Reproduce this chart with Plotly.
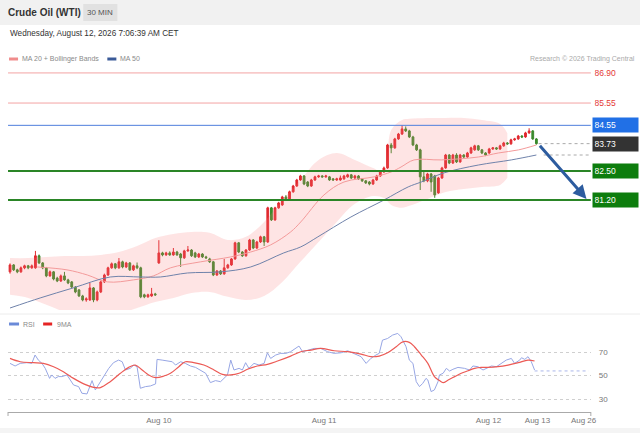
import plotly.graph_objects as go

# 30 min candles, x = candle number (Aug 7 afternoon ... Aug 12 morning)
opens = [77.98, 78.29, 78.07, 77.98, 78.16, 78.25, 78.16, 78.16, 78.70, 78.38,
         78.16, 77.80, 77.98, 77.70, 77.57, 77.80, 77.62, 77.53, 77.30, 77.17,
         76.90, 76.72, 76.72, 77.26, 76.72, 77.08, 77.53, 77.84, 78.16, 78.34,
         78.16, 78.43, 78.20, 78.38, 78.07, 78.25, 78.16, 76.95, 76.86, 76.90,
         76.99, 78.38, 78.83, 78.74, 78.83, 78.74, 78.87, 78.78, 78.61, 78.92,
         78.96, 78.83, 78.65, 78.78, 78.65, 78.56, 78.43, 77.84, 78.02, 77.89,
         78.16, 78.29, 78.56, 79.28, 78.87, 78.70, 78.96, 79.41, 79.05, 79.32,
         79.55, 79.32, 80.85, 80.31, 80.85, 80.98, 81.34, 81.25, 81.57, 81.83,
         82.10, 82.28, 82.01, 81.83, 82.10, 82.24, 82.28, 82.24, 82.24, 82.15,
         82.10, 82.10, 82.15, 82.24, 82.33, 82.19, 82.28, 82.15, 82.06, 82.01,
         81.92, 82.10, 82.28, 82.46, 82.64, 83.67, 83.54, 83.94, 84.16, 84.39,
         84.30, 84.03, 83.67, 83.45, 82.24, 82.06, 82.37, 82.28, 81.52, 82.19,
         82.64, 83.22, 82.86, 83.22, 82.91, 83.22, 83.13, 83.31, 83.45, 83.63,
         83.45, 83.31, 83.31, 83.49, 83.54, 83.49, 83.63, 83.76, 83.72, 83.90,
         83.94, 84.07, 84.03, 84.21, 84.30, 83.94]
highs = [78.36, 78.33, 78.12, 78.22, 78.30, 78.29, 78.31, 78.92, 78.76, 78.42,
         78.20, 78.04, 78.02, 77.76, 77.86, 77.98, 77.67, 77.57, 77.34, 77.21,
         76.95, 76.84, 77.48, 77.30, 77.14, 77.58, 77.90, 78.21, 78.40, 78.38,
         78.60, 78.48, 78.43, 78.42, 78.30, 78.40, 78.21, 77.00, 77.00, 77.26,
         77.04, 79.40, 78.88, 78.88, 78.90, 79.05, 78.92, 78.83, 78.97, 79.14,
         79.00, 78.88, 78.83, 78.82, 78.70, 78.61, 78.47, 78.06, 78.06, 78.56,
         78.34, 78.60, 79.33, 79.32, 78.91, 79.00, 79.46, 79.45, 79.37, 79.60,
         79.59, 80.90, 80.89, 80.90, 81.12, 81.39, 81.42, 81.62, 81.88, 82.15,
         82.33, 82.32, 82.05, 82.15, 82.29, 82.33, 82.32, 82.33, 82.28, 82.19,
         82.20, 82.30, 82.33, 82.38, 82.37, 82.33, 82.32, 82.19, 82.10, 82.05,
         82.15, 82.33, 82.51, 82.70, 83.72, 83.76, 83.99, 84.21, 84.55, 84.50,
         84.35, 84.08, 83.72, 83.50, 82.50, 82.42, 82.41, 82.33, 82.24, 82.69,
         83.27, 83.26, 83.27, 83.30, 83.27, 83.26, 83.36, 83.59, 83.68, 83.67,
         83.49, 83.35, 83.54, 83.58, 83.58, 83.68, 83.81, 83.80, 83.95, 83.99,
         84.12, 84.11, 84.26, 84.42, 84.34, 83.98]
lows = [77.90, 78.02, 77.92, 77.94, 78.10, 78.10, 78.12, 78.12, 78.33, 78.10,
        77.74, 77.76, 77.60, 77.52, 77.53, 77.58, 77.43, 77.25, 77.02, 76.85,
        76.66, 76.64, 76.68, 76.62, 76.66, 77.03, 77.48, 77.80, 78.12, 78.10,
        78.12, 78.14, 78.15, 78.02, 78.02, 78.10, 76.80, 76.80, 76.82, 76.86,
        76.90, 78.34, 78.68, 78.70, 78.70, 78.70, 78.70, 78.20, 78.56, 78.88,
        78.65, 78.60, 78.60, 78.60, 78.56, 78.38, 77.79, 77.80, 77.84, 77.85,
        78.12, 78.25, 78.52, 78.82, 78.65, 78.66, 78.92, 79.00, 79.01, 79.28,
        79.14, 79.28, 80.26, 80.27, 80.81, 80.94, 81.20, 81.21, 81.53, 81.79,
        82.06, 81.87, 81.78, 81.79, 82.06, 82.20, 82.20, 82.20, 82.06, 82.06,
        82.06, 82.06, 82.11, 82.20, 82.14, 82.15, 82.10, 82.01, 81.92, 81.86,
        81.88, 82.06, 82.24, 82.42, 82.60, 83.30, 83.50, 83.90, 84.12, 84.25,
        83.98, 83.62, 83.40, 81.65, 82.00, 82.00, 81.57, 81.30, 81.48, 82.15,
        82.60, 82.81, 82.82, 82.86, 82.87, 83.08, 83.09, 83.27, 83.41, 83.40,
        83.26, 83.17, 83.27, 83.45, 83.45, 83.45, 83.59, 83.68, 83.68, 83.86,
        83.90, 83.98, 83.99, 84.17, 83.90, 83.68]
closes = [78.29, 78.07, 77.98, 78.16, 78.25, 78.16, 78.25, 78.70, 78.38, 78.16,
          77.80, 77.98, 77.66, 77.57, 77.80, 77.62, 77.48, 77.30, 77.08, 76.90,
          76.72, 76.77, 77.26, 76.72, 77.08, 77.53, 77.84, 78.16, 78.34, 78.16,
          78.43, 78.20, 78.38, 78.07, 78.25, 78.16, 76.86, 76.86, 76.95, 76.99,
          76.95, 78.83, 78.74, 78.83, 78.74, 78.87, 78.74, 78.61, 78.92, 78.96,
          78.70, 78.65, 78.78, 78.65, 78.61, 78.43, 77.84, 78.02, 77.89, 78.16,
          78.29, 78.56, 79.28, 78.87, 78.70, 78.96, 79.41, 79.05, 79.32, 79.55,
          79.32, 80.85, 80.31, 80.85, 81.07, 81.34, 81.25, 81.57, 81.83, 82.10,
          82.28, 81.92, 81.83, 82.10, 82.24, 82.28, 82.24, 82.28, 82.10, 82.10,
          82.15, 82.19, 82.28, 82.33, 82.19, 82.28, 82.15, 82.06, 81.97, 81.92,
          82.10, 82.28, 82.46, 82.64, 83.67, 83.54, 83.94, 84.16, 84.39, 84.30,
          84.03, 83.67, 83.45, 82.24, 82.06, 82.37, 82.01, 81.43, 82.19, 82.64,
          83.22, 82.86, 83.22, 82.91, 83.22, 83.13, 83.31, 83.54, 83.63, 83.45,
          83.31, 83.22, 83.49, 83.54, 83.49, 83.63, 83.76, 83.72, 83.90, 83.94,
          84.07, 84.03, 84.21, 84.30, 83.94, 83.73]
candle_x = list(range(len(closes)))

# Bollinger band (20, 2)
band_x = [0, 5, 10, 15, 20, 25, 30, 35, 40, 45, 50, 55, 60, 65, 70,
          75, 80, 85, 90, 95, 100, 103, 105, 108, 110, 115, 120, 125, 130, 135, 137]
band_upper = [78.60, 78.60, 78.65, 78.69, 78.69, 78.74, 78.87, 79.14, 79.50, 79.68,
              79.77, 79.73, 79.41, 79.55, 80.22, 81.20, 82.10, 83.00, 83.31, 83.00,
              82.64, 82.46, 84.34, 84.79, 84.84, 84.88, 84.88, 84.88, 84.79, 84.61, 84.20]
band_lower = [76.95, 76.81, 76.50, 76.18, 75.91, 75.91, 76.09, 76.36, 76.63, 76.81,
              77.03, 77.08, 76.86, 76.72, 76.90, 77.53, 78.43, 79.32, 80.22, 81.03,
              81.38, 81.29, 80.98, 80.85, 80.94, 81.25, 81.56, 81.70, 81.79, 81.88, 82.20]

ma20_x = [7.5, 15.7, 21.3, 26.8, 34.0, 39.5, 44.2, 52.5, 60.8, 66.3, 71.8, 77.3,
          80.1, 86.5, 92.0, 100.3, 105.0, 107.7, 111.3, 118.8, 129.0, 134.5, 140.1, 145.0]
ma20 = [78.20, 78.07, 77.84, 77.53, 77.62, 77.80, 78.16, 78.43, 78.65, 78.87, 79.19, 79.77,
        80.22, 81.43, 82.01, 82.24, 82.46, 82.68, 83.00, 83.00, 83.13, 83.31, 83.45, 83.67]

ma50_x = [0, 8.3, 17.4, 27.6, 35.9, 41.4, 48.9, 58.0, 66.3, 75.4,
          80.1, 84.8, 93.9, 103.0, 109.7, 113.3, 119.6, 129.0, 138.1, 145.0]
ma50 = [76.36, 76.81, 77.26, 77.75, 77.75, 77.75, 77.93, 77.98, 78.20, 78.83,
        79.10, 79.55, 80.44, 81.20, 81.79, 82.01, 82.42, 82.77, 83.00, 83.22]

rsi_x = [0, 1.4, 2.8, 4.6, 6.0, 6.9, 7.8, 8.8, 9.7, 10.9, 11.5, 12.4, 13.3, 14.3, 15.7,
         16.6, 17.5, 18.9, 19.8, 21.2, 21.6, 22.6, 23.5, 24.4, 25.8, 27.2, 28.5, 29.9,
         30.9, 31.8, 33.1, 34.1, 35.0, 35.9, 37.3, 38.7, 40.1, 40.5, 41.9, 43.3, 44.7,
         45.6, 47.0, 48.3, 49.7, 51.1, 52.5, 53.9, 55.2, 56.6, 58.0, 59.9, 60.8, 61.7,
         63.1, 64.0, 64.9, 65.8, 67.2, 68.6, 70.0, 70.9, 71.8, 73.2, 74.6, 76.0, 77.3,
         78.3, 79.6, 80.6, 82.0, 83.8, 85.6, 87.5, 89.3, 91.2, 93.0, 94.8, 96.7, 98.1,
         99.4, 100.8, 101.7, 102.6, 104.0, 105.4, 106.8, 107.7, 109.1, 110.0, 111.0,
         111.9, 112.8, 113.7, 114.6, 115.1, 116.0, 116.9, 117.9, 118.3, 119.3, 120.2,
         121.1, 122.0, 123.4, 125.2, 126.6, 127.5, 128.9, 130.3, 131.2, 132.6, 134.0,
         135.4, 136.7, 138.1, 139.0, 140.4, 140.9, 141.8, 142.7, 143.6, 144.5]
rsi = [60.4, 58.2, 60.4, 61.0, 60.4, 67.5, 63.2, 60.4, 56.2, 47.7, 50.6, 47.7, 49.2, 49.2, 50.6,
       46.3, 42.1, 40.7, 35.1, 34.5, 37.9, 45.8, 37.9, 42.1, 49.2, 56.2, 61.0, 63.2,
       61.8, 54.8, 56.2, 59.0, 57.6, 39.3, 40.7, 41.3, 43.0, 63.8, 63.2, 62.7, 61.8,
       59.0, 61.8, 60.4, 58.2, 57.0, 54.8, 52.0, 44.1, 45.8, 44.9, 50.6, 63.2, 54.8,
       56.2, 54.8, 61.0, 56.2, 60.4, 59.0, 60.4, 69.4, 64.6, 67.5, 68.9, 68.9, 70.3,
       72.3, 75.1, 70.3, 71.7, 73.1, 73.1, 70.3, 68.9, 69.4, 71.1, 68.9, 66.1, 60.4,
       64.6, 67.5, 68.9, 80.1, 81.5, 84.4, 85.8, 83.0, 74.5, 63.2, 60.4,
       44.9, 40.7, 43.5, 47.7, 46.3, 36.5, 37.9, 44.9, 50.6, 52.0, 56.2,
       53.9, 55.4, 57.0, 56.2, 54.8, 58.2, 57.6, 54.8, 56.2, 58.2, 57.6,
       60.4, 63.2, 64.6, 60.4, 63.2, 65.2, 63.8, 66.1, 61.8, 54.8]

rsi_ma_x = [0, 2.8, 6.4, 9.2, 12.0, 14.7, 17.5, 20.3, 23.0, 24.9, 27.6, 30.4, 32.7, 34.5,
            36.4, 38.2, 40.1, 42.4, 44.2, 46.5, 48.3, 50.6, 53.4, 56.2, 58.5, 60.8, 63.1,
            65.4, 68.1, 70.9, 73.7, 77.3, 80.1, 82.9, 85.6, 89.3, 93.0, 96.7, 99.4, 101.7,
            104.0, 106.4, 108.2, 110.0, 111.4, 113.3, 115.1, 116.9, 118.3, 119.3, 120.7,
            122.5, 124.3, 126.2, 128.0, 129.8, 131.6, 134.4, 137.2, 140.0, 142.7, 144.5]
rsi_ma = [64.6, 61.8, 61.0, 60.4, 57.6, 53.4, 47.7, 43.0, 40.1, 39.9, 44.9, 52.0, 57.0, 59.0,
          54.8, 50.6, 48.3, 49.7, 52.0, 57.6, 61.8, 61.0, 59.0, 54.8, 51.1, 50.6, 52.0,
          55.4, 58.2, 59.6, 62.4, 66.6, 70.3, 71.7, 73.1, 71.1, 70.3, 68.3, 66.1, 66.6,
          69.4, 74.5, 78.7, 78.2, 74.5, 67.5, 60.4, 49.2, 45.8, 44.1, 46.3,
          49.2, 52.0, 54.2, 56.2, 57.0, 57.0, 57.6, 59.0, 61.0, 63.2, 62.4]

resistances = [86.90, 85.55]
pivot = 84.55
last_price = 83.73
supports = [82.50, 81.20]

tick_pos = [41, 86.5, 131.8, 145.3, 158]
tick_text = ['Aug 10', 'Aug 11', 'Aug 12', 'Aug 13', 'Aug 26']

# the photographed page comes out ~1.25% narrower than the figure, so draw a bit wider
W, H = 648, 433
def px(x): return x / 640
def py(y): return 1 - y / H

UP = '#e0282e'
DOWN = '#3b8a2c'

fig = go.Figure()

fig.add_trace(go.Scatter(x=band_x, y=band_upper, mode='lines', line=dict(width=0, shape='spline'),
                         hoverinfo='skip', showlegend=False))
fig.add_trace(go.Scatter(x=band_x, y=band_lower, mode='lines', line=dict(width=0, shape='spline'),
                         fill='tonexty', fillcolor='rgba(248,120,120,0.2)',
                         hoverinfo='skip', showlegend=False))
fig.add_trace(go.Scatter(x=ma20_x, y=ma20, mode='lines', line=dict(color='#f39a9a', width=1, shape='spline'),
                         showlegend=False))
fig.add_trace(go.Scatter(x=ma50_x, y=ma50, mode='lines', line=dict(color='#6f82aa', width=1, shape='spline'),
                         showlegend=False))
fig.add_trace(go.Candlestick(x=candle_x, open=opens, high=highs, low=lows, close=closes,
                             increasing=dict(line=dict(color=UP, width=1), fillcolor=UP),
                             decreasing=dict(line=dict(color=DOWN, width=1), fillcolor=DOWN),
                             showlegend=False))

fig.add_trace(go.Scatter(x=rsi_x, y=rsi, mode='lines', line=dict(color='#97a6e4', width=1),
                         xaxis='x2', yaxis='y2', showlegend=False))
fig.add_trace(go.Scatter(x=rsi_ma_x, y=rsi_ma, mode='lines', line=dict(color='#ec5a55', width=1.2, shape='spline'),
                         xaxis='x2', yaxis='y2', showlegend=False))

shapes = []
# background bands
shapes.append(dict(type='rect', xref='paper', yref='paper', x0=0, x1=1, y0=py(25), y1=1,
                   fillcolor='#f1f1f1', line_width=0, layer='below'))
shapes.append(dict(type='rect', xref='paper', yref='paper', x0=px(83), x1=px(117), y0=py(21), y1=py(4),
                   fillcolor='#e1e1e1', line_width=0, layer='below'))
shapes.append(dict(type='line', xref='paper', yref='paper', x0=0, x1=1, y0=py(314), y1=py(314),
                   line=dict(color='#ececec', width=1)))
shapes.append(dict(type='rect', xref='paper', yref='paper', x0=0, x1=1, y0=0, y1=py(428),
                   fillcolor='#f4f4f4', line_width=0, layer='below'))

# level lines
for r in resistances:
    shapes.append(dict(type='line', xref='x domain', yref='y', x0=0, x1=1, y0=r, y1=r,
                       line=dict(color='#f3a3a3', width=1)))
shapes.append(dict(type='line', xref='x domain', yref='y', x0=0, x1=1, y0=pivot, y1=pivot,
                   line=dict(color='#4f7fdc', width=1)))
for s in supports:
    shapes.append(dict(type='line', xref='x domain', yref='y', x0=0, x1=1, y0=s, y1=s,
                       line=dict(color='#2a8526', width=2)))
shapes.append(dict(type='line', xref='x', yref='y', x0=candle_x[-1] + 0.6, x1=160, y0=last_price, y1=last_price,
                   line=dict(color='#aaaaaa', width=1, dash='dot')))
shapes.append(dict(type='line', xref='x', yref='y', x0=ma50_x[-1] + 2, x1=160, y0=ma50[-1], y1=ma50[-1],
                   line=dict(color='#aaaaaa', width=1, dash='dot')))
shapes.append(dict(type='line', xref='x2', yref='y2', x0=rsi_x[-1], x1=159.4, y0=rsi[-1] - 0.8, y1=rsi[-1] - 0.8,
                   line=dict(color='#aab6ea', width=1, dash='dot')))

# little end ticks on the time axis
for xe in [8, 589]:
    shapes.append(dict(type='line', xref='paper', yref='paper', x0=px(xe), x1=px(xe), y0=py(412), y1=py(416),
                       line=dict(color='#aaaaaa', width=1)))

# legend swatches
shapes.append(dict(type='rect', xref='paper', yref='paper', x0=px(9), x1=px(18), y0=py(60.5), y1=py(57.5),
                   fillcolor='#f08c8c', line_width=0))
shapes.append(dict(type='rect', xref='paper', yref='paper', x0=px(107), x1=px(116), y0=py(60.5), y1=py(57.5),
                   fillcolor='#3a5a98', line_width=0))
shapes.append(dict(type='rect', xref='paper', yref='paper', x0=px(9), x1=px(19), y0=py(325.5), y1=py(322.5),
                   fillcolor='#6a8ad8', line_width=0))
shapes.append(dict(type='rect', xref='paper', yref='paper', x0=px(43), x1=px(52), y0=py(325.5), y1=py(322.5),
                   fillcolor='#e52424', line_width=0))

FONT = 'Liberation Sans, Arial, sans-serif'
ann = []
def text(x, y, t, size=8, color='#666', bold=False, anchor='left'):
    ann.append(dict(xref='paper', yref='paper', x=px(x), y=py(y), text='<b>%s</b>' % t if bold else t,
                    showarrow=False, xanchor=anchor, yanchor='middle',
                    font=dict(family=FONT, size=size, color=color)))

text(6, 12.5, 'Crude Oil (WTI)', 10, '#333', bold=True)
text(100, 12.5, '30 MIN', 8, '#555', anchor='center')
text(8, 33, 'Wednesday, August 12, 2026 7:06:39 AM CET', 8.2, '#333')
text(20, 59, 'MA 20 + Bollinger Bands', 7, '#8a8a8a')
text(118, 59, 'MA 50', 7, '#8a8a8a')
text(635, 59, 'Research © 2026 Trading Central', 7, '#aaaaaa', anchor='right')
text(21, 324, 'RSI', 7, '#8a8a8a')
text(55, 324, '9MA', 7, '#8a8a8a')

def price_label(v, bg, fg):
    ann.append(dict(xref='paper', yref='y', x=px(590), y=v, text='%.2f' % v, showarrow=False,
                    xanchor='left', yanchor='middle', align='left', width=42, height=11,
                    bgcolor=bg, borderpad=1.5, font=dict(family=FONT, size=8.5, color=fg)))

for r in resistances:
    price_label(r, 'rgba(0,0,0,0)', '#e53935')
price_label(pivot, '#2170e6', 'white')
price_label(last_price, '#333333', 'white')
for s in supports:
    price_label(s, '#0d7d0d', 'white')

# forecast arrow
ann.append(dict(xref='x', yref='y', axref='x', ayref='y', x=158.8, y=81.25, ax=145.6, ay=83.70,
                text='', showarrow=True, arrowhead=2, arrowsize=0.9, arrowwidth=3, arrowcolor='#2d5c9f'))

fig.update_layout(
    width=W, height=H,
    margin=dict(l=0, r=0, t=0, b=0),
    paper_bgcolor='white', plot_bgcolor='rgba(0,0,0,0)',
    showlegend=False,
    shapes=shapes, annotations=ann,
    xaxis=dict(domain=[px(8), px(589)], range=[-0.55, 160], anchor='y',
               showticklabels=False, showgrid=False, zeroline=False,
               rangeslider=dict(visible=False)),
    yaxis=dict(domain=[py(310), py(62)], range=[76.27, 87.39],
               showticklabels=False, showgrid=False, zeroline=False),
    xaxis2=dict(domain=[px(8), px(589)], range=[-0.55, 160], anchor='y2',
                tickvals=tick_pos, ticktext=tick_text, ticks='',
                showline=True, linecolor='#aaaaaa', linewidth=1,
                showgrid=False, zeroline=False,
                tickfont=dict(family=FONT, size=8, color='#777')),
    yaxis2=dict(domain=[py(412), py(330)], range=[19.2, 88.7], side='right',
                tickvals=[30, 50, 70], ticks='', ticklabelstandoff=7,
                showgrid=True, gridcolor='#cfcfcf', griddash='dot', gridwidth=1,
                zeroline=False, showline=False,
                tickfont=dict(family=FONT, size=8, color='#777')),
    hovermode=False,
)

fig.write_html("out.html", config={'displayModeBar': False},
               post_script="document.body.style.margin='0px';"
                           "document.body.style.overflow='hidden';"
                           "document.documentElement.style.overflow='hidden';")
